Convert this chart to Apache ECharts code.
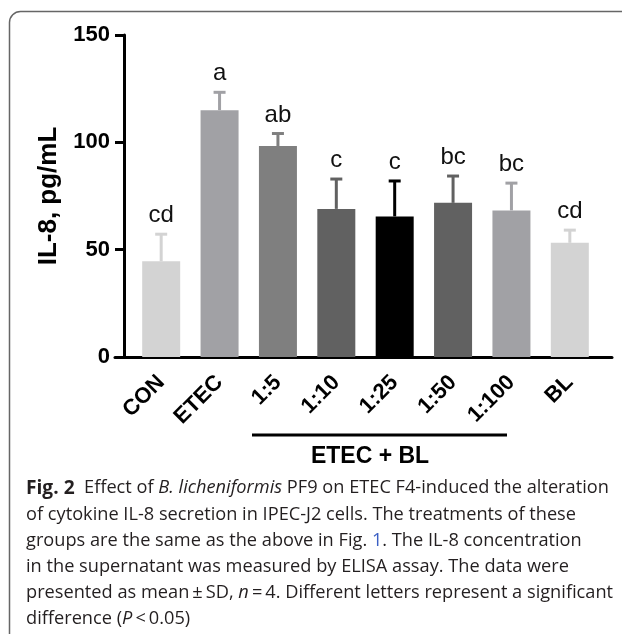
<!DOCTYPE html>
<html>
<head>
<meta charset="utf-8">
<script src="https://cdn.jsdelivr.net/npm/echarts@6/dist/echarts.min.js"></script>
<style>
  html, body { margin: 0; padding: 0; background: #fff; }
  #chart { width: 622px; height: 634px; }
</style>
</head>
<body>
<div id="chart"></div>
<script>
// groups and readings (IL-8, pg/mL)
const categories = ['CON', 'ETEC', '1:5', '1:10', '1:25', '1:50', '1:100', 'BL']
const means = [44.6, 115.0, 98.3, 69.0, 65.5, 71.8, 68.3, 53.2]
const sds = [13.3, 9.0, 6.5, 14.6, 17.2, 13.2, 13.4, 6.6]
const letters = ['cd', 'a', 'ab', 'c', 'c', 'bc', 'bc', 'cd']
const barColors = ['#d3d3d3', '#a1a1a5', '#7f7f7f', '#616161', '#000000', '#616161', '#a1a1a5', '#d3d3d3']
const yTicks = { min: 0, max: 150, interval: 50 }

const captionLines = [
  '{b|Fig. 2}  Effect of {i|B. licheniformis} PF9 on ETEC F4-induced the alteration',
  'of cytokine IL-8 secretion in IPEC-J2 cells. The treatments of these',
  'groups are the same as the above in Fig. {l|1}. The IL-8 concentration',
  'in the supernatant was measured by ELISA assay. The data were',
  'presented as mean\u2009\u00b1\u2009SD, {i|n}\u2009=\u20094. Different letters represent a significant',
  'difference ({i|P}\u2009<\u20090.05)'
]

const FONT = '"Liberation Sans", Arial, Helvetica, sans-serif'
const CAP_FONT = '"Open Sans", "Noto Sans", sans-serif'

// condensed look of the caption: squeeze a plain line to its width in the picture
const ctx = document.createElement('canvas').getContext('2d')
ctx.font = '19px ' + CAP_FONT
const capScale = (576 - 26) / ctx.measureText(captionLines[1]).width

const chart = echarts.init(document.getElementById('chart'))

const errorSeries = {
  type: 'custom',
  xAxisIndex: 0,
  yAxisIndex: 0,
  z: 3,
  data: means.map((m, i) => [i, m, m + sds[i]]),
  renderItem: (params, api) => {
    const i = api.value(0)
    const base = api.coord([i, api.value(1)])
    const top = api.coord([i, api.value(2)])
    const color = barColors[i]
    return {
      type: 'group',
      children: [
        { type: 'line', shape: { x1: base[0], y1: base[1], x2: top[0], y2: top[1] + 1.5 },
          style: { stroke: color, lineWidth: 3 } },
        { type: 'line', shape: { x1: top[0] - 6, y1: top[1] + 1.5, x2: top[0] + 6, y2: top[1] + 1.5 },
          style: { stroke: color, lineWidth: 3 } },
        { type: 'text', x: top[0], y: top[1] - 5,
          style: { text: letters[i], font: '24px ' + FONT, fill: '#111', align: 'center', verticalAlign: 'bottom' } }
      ]
    }
  }
}

const option = {
  animation: false,
  grid: [
    { left: 132, right: 23, top: 35, bottom: 277 },
    { left: 115, right: 10, top: 35, bottom: 277 }
  ],
  xAxis: [
    {
      type: 'category',
      gridIndex: 0,
      data: categories,
      axisLine: { lineStyle: { color: '#000', width: 3 } },
      axisTick: { alignWithLabel: true, length: 10, lineStyle: { color: '#000', width: 3 } },
      axisLabel: {
        interval: 0, rotate: 45, margin: 22,
        fontFamily: FONT, fontWeight: 'bold', fontSize: 22, color: '#000'
      }
    },
    {
      type: 'value',
      gridIndex: 1,
      axisLine: { show: true, onZero: false, lineStyle: { color: '#000', width: 3 } },
      axisTick: { show: false },
      axisLabel: { show: false },
      splitLine: { show: false }
    }
  ],
  yAxis: [
    {
      type: 'value',
      gridIndex: 0,
      min: yTicks.min, max: yTicks.max, interval: yTicks.interval,
      offset: 8,
      name: 'IL-8, pg/mL',
      nameLocation: 'middle',
      nameRotate: 90,
      nameGap: 62,
      nameTextStyle: { fontFamily: FONT, fontWeight: 'bold', fontSize: 26, color: '#000' },
      axisLine: { show: true, lineStyle: { color: '#000', width: 3 } },
      axisTick: { show: true, length: 9, lineStyle: { color: '#000', width: 3 } },
      axisLabel: { margin: 14, fontFamily: FONT, fontWeight: 'bold', fontSize: 22, color: '#000' },
      splitLine: { show: false }
    },
    { type: 'value', gridIndex: 1, show: false }
  ],
  series: [
    {
      type: 'bar',
      xAxisIndex: 0,
      yAxisIndex: 0,
      barWidth: 38,
      data: means.map((m, i) => ({ value: m, itemStyle: { color: barColors[i] } }))
    },
    errorSeries
  ],
  graphic: [
    { type: 'rect', shape: { x: 9.5, y: 11.5, width: 800, height: 800, r: 11 },
      style: { fill: 'none', stroke: '#666', lineWidth: 1.5 } },
    { type: 'line', shape: { x1: 252, y1: 435, x2: 507, y2: 435 },
      style: { stroke: '#000', lineWidth: 3 } },
    { type: 'text', x: 370, y: 457,
      style: { text: 'ETEC + BL', font: 'bold 23px ' + FONT, fill: '#000', align: 'center', verticalAlign: 'middle' } }
  ].concat(captionLines.map((t, k) => ({
    type: 'text',
    x: 26,
    y: 488 + k * 26.2,
    scaleX: capScale,
    style: {
      text: t,
      font: '19px ' + CAP_FONT,
      fill: '#231f20',
      verticalAlign: 'middle',
      rich: {
        b: { fontWeight: 'bold', fontSize: 20, fontFamily: CAP_FONT, fill: '#231f20' },
        i: { fontStyle: 'italic', fontSize: 19, fontFamily: CAP_FONT, fill: '#231f20' },
        l: { fontSize: 19, fontFamily: CAP_FONT, fill: '#3b5fc4' }
      }
    }
  })))
}

chart.setOption(option)
</script>
</body>
</html>
